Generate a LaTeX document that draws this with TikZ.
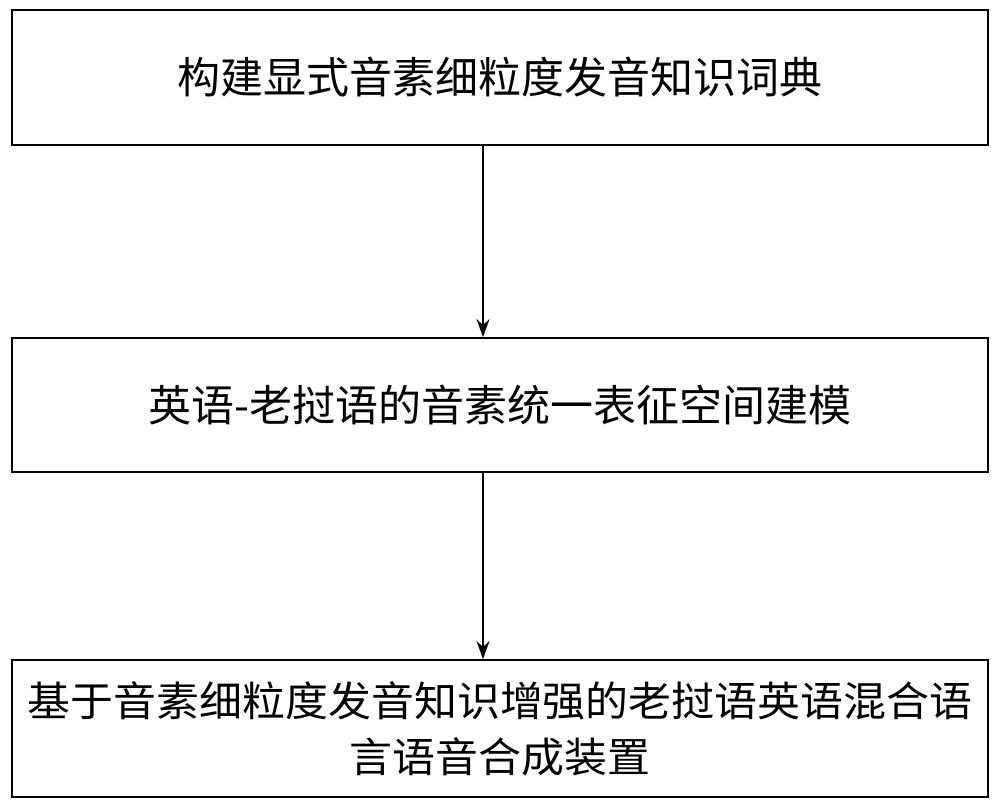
\documentclass[tikz,border=0pt]{standalone}
\usepackage{fontspec}
\setmainfont{Noto Sans CJK SC}
\usetikzlibrary{arrows.meta}
\begin{document}
\begin{tikzpicture}[x=1pt,y=1pt,
  box/.style={draw,line width=1.8pt,minimum width=976pt,inner sep=0pt,align=center},
  arr/.style={-{Stealth[length=18pt,width=13pt]},line width=1.6pt}]
\useasboundingbox (0,0) rectangle (1000,809);
\node[box,minimum height=135pt,font=\fontsize{43}{48}\selectfont] (a) at (500,731.5) {构建显式音素细粒度发音知识词典};
\node[box,minimum height=134pt,font=\fontsize{43}{48}\selectfont] (b) at (500,404) {英语-老挝语的音素统一表征空间建模};
\node[box,minimum height=137pt,text width=970pt,font=\fontsize{38}{56}\selectfont] (c) at (500,80.5) {\fontsize{38}{56}\selectfont\scalebox{1.13}[1.08]{基于音素细粒度发音知识增强的老挝语英语混合语}\\\scalebox{1.13}[1.08]{言语音合成装置}};
\draw[arr] (a.south -| 483,0) -- (b.north -| 483,0);
\draw[arr] (b.south -| 483,0) -- (c.north -| 483,0);
\end{tikzpicture}
\end{document}
